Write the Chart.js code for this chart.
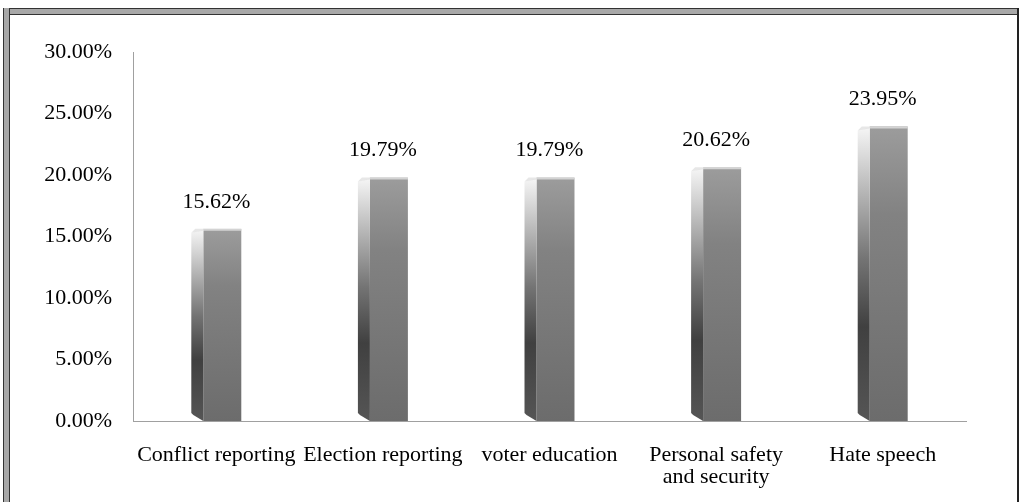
<!DOCTYPE html>
<html>
<head>
<meta charset="utf-8">
<script src="https://cdn.jsdelivr.net/npm/chart.js@4/dist/chart.umd.min.js"></script>
<style>
  body { margin: 0; background: #fff; }
  #wrap { position: relative; width: 1019px; height: 502px; overflow: hidden; }
  #frameTop { position: absolute; left: 3px; top: 8px; width: 1016px; height: 5px;
    border-top: 1px solid #333; border-bottom: 1px solid #333; background: #a8a8a8; }
  #frameLeft { position: absolute; left: 3px; top: 8px; width: 5px; height: 494px;
    border-left: 1px solid #333; border-right: 1px solid #333; background: #a8a8a8; }
  #frameRight { position: absolute; left: 1017px; top: 8px; width: 2px; height: 494px; background: #222; }
  #box { position: absolute; left: 0; top: 0; width: 1019px; height: 502px; }
</style>
</head>
<body>
<div id="wrap">
  <div id="box"><canvas id="topics"></canvas></div>
  <div id="frameTop"></div>
  <div id="frameLeft"></div>
  <div id="frameRight"></div>
</div>
<script>
const topics = ['Conflict reporting', 'Election reporting', 'voter education', ['Personal safety', 'and security'], 'Hate speech'];
const shares = [15.62, 19.79, 19.79, 20.62, 23.95];
const yTicks = [0, 5, 10, 15, 20, 25, 30];

const serif = '"Liberation Serif", "Times New Roman", serif';

// shaded "3D" columns plus the value above each one
const columns = {
  id: 'columns',
  afterDatasetsDraw(chart) {
    const ctx = chart.ctx;
    const meta = chart.getDatasetMeta(0);
    meta.data.forEach((bar, i) => {
      const w = bar.width;
      const left = bar.x - w / 2;
      const top = bar.y;
      const base = bar.base;
      const side = w * 0.24;
      ctx.save();

      let g = ctx.createLinearGradient(0, top, 0, base);
      g.addColorStop(0, '#9c9c9c');
      g.addColorStop(0.3, '#828282');
      g.addColorStop(1, '#6c6c6c');
      ctx.fillStyle = g;
      ctx.fillRect(left + side, top, w - side, base - top);

      g = ctx.createLinearGradient(0, top, 0, base);
      g.addColorStop(0, '#f6f6f6');
      g.addColorStop(0.12, '#d4d4d4');
      g.addColorStop(0.45, '#747474');
      g.addColorStop(0.68, '#404040');
      g.addColorStop(1, '#555555');
      ctx.fillStyle = g;
      ctx.beginPath();
      ctx.moveTo(left, top + 4);
      ctx.lineTo(left + side, top + 1);
      ctx.lineTo(left + side, base);
      ctx.lineTo(left + 2, base - 6);
      ctx.lineTo(left, base - 8);
      ctx.closePath();
      ctx.fill();

      ctx.fillStyle = 'rgba(225,225,225,0.8)';
      ctx.beginPath();
      ctx.moveTo(left, top + 4);
      ctx.lineTo(left + 4, top);
      ctx.lineTo(left + w, top);
      ctx.lineTo(left + w, top + 2);
      ctx.lineTo(left + side, top + 2);
      ctx.closePath();
      ctx.fill();

      ctx.fillStyle = '#000';
      ctx.font = '22px ' + serif;
      ctx.textAlign = 'center';
      ctx.textBaseline = 'middle';
      ctx.fillText(shares[i].toFixed(2) + '%', bar.x, top - 27);
      ctx.restore();
    });
  }
};

new Chart(document.getElementById('topics'), {
  type: 'bar',
  data: {
    labels: topics,
    datasets: [{
      data: shares,
      backgroundColor: 'rgba(0,0,0,0)',
      borderWidth: 0,
      barPercentage: 0.5,
      categoryPercentage: 0.6
    }]
  },
  options: {
    responsive: true,
    maintainAspectRatio: false,
    animation: false,
    layout: { padding: { top: 52, right: 53, left: 0, bottom: 0 } },
    plugins: { legend: { display: false }, tooltip: { enabled: false } },
    scales: {
      x: {
        grid: { display: false, drawTicks: false },
        border: { display: true, color: '#a0a0a0', width: 1 },
        ticks: {
          color: '#000',
          font: { family: serif, size: 22, lineHeight: 1.0 },
          padding: 23,
          maxRotation: 0,
          autoSkip: false
        },
        afterFit(s) { s.height = 81; }
      },
      y: {
        min: 0,
        max: 30,
        afterBuildTicks(s) { s.ticks = yTicks.map(v => ({ value: v })); },
        grid: { display: false, drawTicks: false },
        border: { display: true, color: '#a0a0a0', width: 1 },
        ticks: {
          color: '#000',
          font: { family: serif, size: 22 },
          padding: 21,
          callback: v => v.toFixed(2) + '%'
        },
        afterFit(s) { s.width = 133; }
      }
    }
  },
  plugins: [columns]
});
</script>
</body>
</html>
